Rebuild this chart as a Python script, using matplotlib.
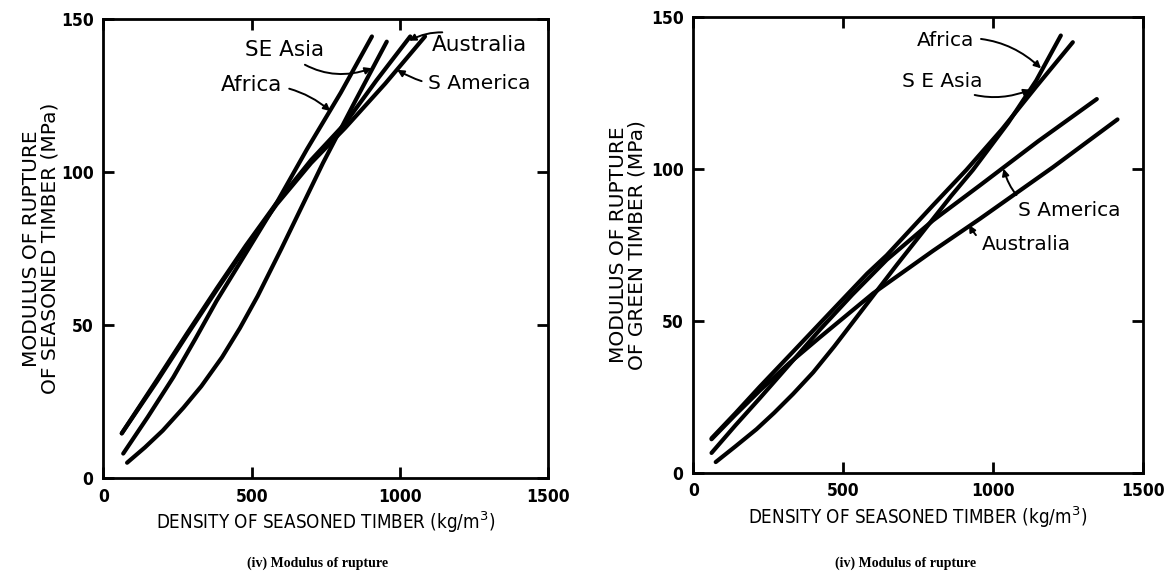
import matplotlib
matplotlib.use("Agg")
import matplotlib.pyplot as plt

# ---- Seasoned timber: modulus of rupture (MPa) vs density (kg/m3) ----
africa_s_x = [67, 150, 236, 310, 382, 480, 584, 686, 800, 905]
africa_s_y = [8, 20, 33, 45.5, 58, 73.5, 90, 107.5, 126, 144.4]
seasia_s_x = [80, 140, 200, 270, 330, 400, 460, 520, 600, 680, 740, 850, 955]
seasia_s_y = [5, 10, 15.5, 23, 30, 39.5, 49, 59.5, 75, 91, 103, 123.5, 142.7]
aus_s_x = [62, 180, 280, 382, 480, 584, 700, 815, 920, 1034]
aus_s_y = [14.6, 32, 47, 62, 76, 90, 104, 116, 130, 144.4]
samer_s_x = [62, 180, 280, 382, 480, 584, 700, 815, 950, 1084]
samer_s_y = [14.6, 31.5, 46.5, 61.5, 75.5, 89.5, 103, 114.5, 129, 144.4]

# ---- Green timber: modulus of rupture (MPa) vs density (kg/m3) ----
africa_g_x = [61, 140, 222, 330, 450, 580, 645, 800, 911, 1030, 1144, 1266]
africa_g_y = [11.3, 19.5, 28.3, 39.5, 52, 65.5, 71.5, 88, 99.6, 113, 127, 141.6]
seasia_g_x = [75, 140, 211, 270, 333, 400, 470, 540, 610, 680, 760, 860, 933, 1050, 1144, 1226]
seasia_g_y = [3.5, 8.6, 14.3, 19.7, 25.9, 33, 41.5, 50.5, 59.5, 68.5, 78.5, 91, 99.6, 115, 129, 143.8]
samer_g_x = [61, 140, 222, 320, 422, 530, 645, 800, 956, 1150, 1346]
samer_g_y = [6.5, 15.5, 24.5, 35.5, 47, 58.5, 70, 83, 94.5, 109, 122.9]
aus_g_x = [61, 140, 222, 320, 422, 600, 800, 956, 1200, 1415]
aus_g_y = [11, 19, 27, 36, 44.5, 59, 73, 83.5, 100.5, 116.2]

x_ticks = [0, 500, 1000, 1500]
y_ticks = [0, 50, 100, 150]

fig = plt.figure(figsize=(11.73, 5.79), dpi=100)
ax1 = fig.add_axes([0.0881, 0.1744, 0.3795, 0.7922])
ax2 = fig.add_axes([0.5910, 0.1836, 0.3834, 0.7876])

line_kw = dict(color="black", lw=3.0, solid_capstyle="round", solid_joinstyle="round")


def style_axes(ax, ylabel, ylabel_x):
    ax.set_xlim(0, 1500)
    ax.set_ylim(0, 150)
    ax.set_xticks(x_ticks)
    ax.set_yticks(y_ticks)
    ax.tick_params(direction="in", length=8, width=2, top=True, right=True,
                   labelsize=12.5, pad=7)
    for lab in ax.get_xticklabels() + ax.get_yticklabels():
        lab.set_fontweight("bold")
        lab.set_fontstretch("condensed")
    for sp in ax.spines.values():
        sp.set_linewidth(2)
    ax.set_xlabel("DENSITY OF SEASONED TIMBER (kg/m$^3$)", fontsize=13.5,
                  labelpad=3, family="DejaVu Sans", stretch="condensed")
    ax.set_ylabel(ylabel, fontsize=14.5, linespacing=0.95, family="DejaVu Sans",
                  va="center")
    ax.yaxis.set_label_coords(ylabel_x, 0.5)


def label(ax, text, xy, xytext, rad, size=15.5):
    ax.annotate(text, xy=xy, xytext=xytext, ha="center", va="center",
                fontsize=size,
                arrowprops=dict(arrowstyle="-|>", color="black", lw=1.4,
                                mutation_scale=10, shrinkA=3, shrinkB=0,
                                connectionstyle=f"arc3,rad={rad}"))


# Seasoned timber panel
ax1.plot(aus_s_x, aus_s_y, **line_kw)
ax1.plot(samer_s_x, samer_s_y, **line_kw)
ax1.plot(africa_s_x, africa_s_y, **line_kw)
ax1.plot(seasia_s_x, seasia_s_y, **line_kw)
style_axes(ax1, "MODULUS OF RUPTURE\nOF SEASONED TIMBER (MPa)", -0.14)
label(ax1, "SE Asia", (905, 134), (610, 140), 0.3)
label(ax1, "Africa", (765, 120), (500, 128.6), -0.2)
label(ax1, "Australia", (1030, 143), (1268, 141.5), 0.3)
label(ax1, "S America", (990, 133.5), (1268, 129), -0.2, 14.5)

# Green timber panel
ax2.plot(aus_g_x, aus_g_y, **line_kw)
ax2.plot(samer_g_x, samer_g_y, **line_kw)
ax2.plot(africa_g_x, africa_g_y, **line_kw)
ax2.plot(seasia_g_x, seasia_g_y, **line_kw)
style_axes(ax2, "MODULUS OF RUPTURE\nOF GREEN TIMBER (MPa)", -0.145)
label(ax2, "Africa", (1160, 133), (841, 142.3), -0.25, 14.5)
label(ax2, "S E Asia", (1125, 126), (832, 128.6), 0.25, 14.5)
label(ax2, "S America", (1035, 100), (1253, 86.3), -0.45, 14.5)
label(ax2, "Australia", (920, 81.5), (1110, 75), -0.45, 14.5)

# Panel captions
cap_kw = dict(ha="center", va="center", fontsize=10, fontweight="bold",
              family="Liberation Serif")
fig.text(0.271, 1 - 563 / 579, "(iv) Modulus of rupture", **cap_kw)
fig.text(0.772, 1 - 563 / 579, "(iv) Modulus of rupture", **cap_kw)

fig.savefig("out.png", dpi=100, facecolor="white")
